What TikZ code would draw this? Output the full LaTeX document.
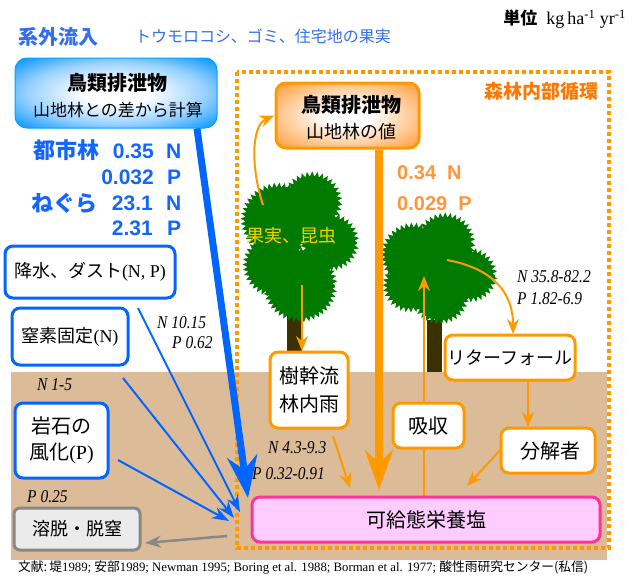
\documentclass[tikz,border=0pt]{standalone}
\usepackage{fontspec}
\setmainfont{Liberation Serif}
\newfontfamily\jp{Noto Sans CJK JP}
\newfontfamily\arl{Liberation Sans}
\usetikzlibrary{arrows.meta,decorations.pathmorphing}
\definecolor{fblue}{RGB}{0,102,255}
\definecolor{tblue}{RGB}{51,110,240}
\definecolor{numblue}{RGB}{20,100,255}
\definecolor{forange}{RGB}{255,153,0}
\definecolor{numorange}{RGB}{255,150,60}
\definecolor{titleorange}{RGB}{255,119,0}
\definecolor{soil}{RGB}{220,187,153}
\definecolor{leaf}{RGB}{0,122,0}
\definecolor{trunk}{RGB}{58,48,0}
\definecolor{fruit}{RGB}{255,204,0}
\definecolor{pinkline}{RGB}{255,51,153}
\definecolor{pinkfill}{RGB}{255,204,255}
\definecolor{grayline}{RGB}{136,136,136}
\definecolor{grayfill}{RGB}{235,235,235}
\pgfdeclareradialshading{bluefade}{\pgfpoint{0bp}{0bp}}{rgb(0bp)=(1,1,1); rgb(8bp)=(1,1,1); rgb(22bp)=(0.6,0.82,1); rgb(34bp)=(0.05,0.6,1); rgb(80bp)=(0,0.55,1)}
\pgfdeclareradialshading{orangefade}{\pgfpoint{0bp}{0bp}}{rgb(0bp)=(1,1,1); rgb(8bp)=(1,1,1); rgb(22bp)=(1,0.8,0.6); rgb(34bp)=(1,0.62,0.25); rgb(80bp)=(1,0.6,0.2)}
\newcommand\fsz[1]{\fontsize{#1}{#1}\selectfont}
\newcommand\cnd[1]{\scalebox{0.86}[1]{#1}}
\begin{document}
\begin{tikzpicture}[x=1pt,y=-1pt,
  jbox/.style={draw, line width=3pt, rounded corners=8pt, fill=white, inner sep=0pt, align=center, font=\jp\fsz{18}},
  lab/.style={inner sep=0pt, font=\itshape\fsz{18}},
  bnum/.style={inner sep=0pt, text=numblue, font=\arl\bfseries\fsz{21}},
  bword/.style={inner sep=0pt, text=numblue, font=\jp\bfseries\fsz{22}},
  crown/.style={fill=leaf, decorate, decoration={zigzag, segment length=5pt, amplitude=2.5pt}},
  thin/.style={fblue, line width=2pt, -{Stealth[length=17pt,width=12pt]}},
  oarr/.style={forange, line width=2pt, -{Stealth[length=15pt,width=12pt]}}]
\useasboundingbox (0,0) rectangle (636,579);

% soil layer and the dotted frame of the internal cycle
\fill[soil] (11,372) rectangle (607,560);
\draw[forange, line width=4pt, dash pattern=on 4pt off 3pt] (237,72) rectangle (609,548);

% trunks
\fill[trunk] (287,300) rectangle (302,352);
\fill[trunk] (427,320) rectangle (442,372);

% crowns
\fill[crown] (278,220) circle[radius=35pt];
\fill[crown] (312,202) circle[radius=28pt];
\fill[crown] (330,242) circle[radius=27pt];
\fill[crown] (300,285) circle[radius=35pt];
\fill[crown] (275,265) circle[radius=30pt];
\fill[crown] (413,255) circle[radius=30pt];
\fill[crown] (445,243) circle[radius=28pt];
\fill[crown] (470,275) circle[radius=25pt];
\fill[crown] (440,295) circle[radius=27pt];
\fill[crown] (410,285) circle[radius=25pt];

% headings
\node[inner sep=0pt, anchor=west, text=tblue, font=\jp\bfseries\fsz{20}] (ttl) at (18,37) {系外流入};
\node[inner sep=0pt, anchor=west, text=tblue, font=\jp\fsz{16}] (src) at (135,36) {トウモロコシ、ゴミ、住宅地の果実};
\node[inner sep=0pt, anchor=east, font=\fsz{18}] (unit) at (626,19) {{\jp\bfseries\fsz{17}単位}\ \ kg\,ha\textsuperscript{-1} yr\textsuperscript{-1}};
\node[inner sep=0pt, text=titleorange, font=\jp\bfseries\fsz{19}] (cyc) at (541,91) {森林内部循環};

% boxes of the external inputs
\node[rounded corners=12pt, shading=bluefade, draw=fblue!60!cyan, line width=1pt, inner sep=0pt, minimum width=202pt, minimum height=70pt] (bluebox) at (116,93) {};
\node[inner sep=0pt, font=\jp\bfseries\fsz{20}] (bb1) at (117,83) {鳥類排泄物};
\node[inner sep=0pt, font=\jp\fsz{17}] (bb2) at (118,110) {山地林との差から計算};

\node[rounded corners=10pt, shading=orangefade, draw=forange, line width=3pt, inner sep=0pt, minimum width=143pt, minimum height=65pt] (orangebox) at (347.5,115.5) {};
\node[inner sep=0pt, font=\jp\bfseries\fsz{20}] (ob1) at (351,105) {鳥類排泄物};
\node[inner sep=0pt, font=\jp\fsz{18}] (ob2) at (351,132) {山地林の値};

% amounts of bird droppings
\node[bword, anchor=east] (w1) at (100,150) {都市林};
\node[bnum, anchor=east] (n1) at (154,151) {0.35};
\node[bnum, anchor=west] (l1) at (166,151) {N};
\node[bnum, anchor=east] (n2) at (154,177) {0.032};
\node[bnum, anchor=west] (l2) at (167,177) {P};
\node[bword, anchor=east] (w3) at (98,203) {ねぐら};
\node[bnum, anchor=east] (n3) at (153,203) {23.1};
\node[bnum, anchor=west] (l3) at (166,203) {N};
\node[bnum, anchor=east] (n4) at (153,228) {2.31};
\node[bnum, anchor=west] (l4) at (167,228) {P};

\node[inner sep=0pt, anchor=west, text=numorange, font=\arl\bfseries\fsz{20}] (o1) at (397,173) {0.34\ \ N};
\node[inner sep=0pt, anchor=west, text=numorange, font=\arl\bfseries\fsz{20}] (o2) at (397,204) {0.029\ \ P};

\node[inner sep=0pt, text=fruit, font=\jp\fsz{18}] (fr) at (291,236) {果実、昆虫};

% flux labels
\node[lab, anchor=west] (f1) at (157,323) {\cnd{N 10.15}};
\node[lab, anchor=west] (f2) at (172,343) {\cnd{P 0.62}};
\node[lab, anchor=west] (f3) at (37,385) {\cnd{N 1-5}};
\node[lab, anchor=west] (f4) at (27,497) {\cnd{P 0.25}};
\node[lab, anchor=west] (f5) at (268,448) {\cnd{N 4.3-9.3}};
\node[lab, anchor=west] (f6) at (252,474) {\cnd{P 0.32-0.91}};
\node[lab, anchor=west] (f7) at (517,277) {\cnd{N 35.8-82.2}};
\node[lab, anchor=west] (f8) at (517,299) {\cnd{P 1.82-6.9}};

% connector end points
\coordinate (bx) at (197,0);
\coordinate (bend) at (248,498);
\coordinate (rs) at (138,308);
\coordinate (re) at (240,512);
\coordinate (ns) at (123,378);
\coordinate (ne) at (234,518);
\coordinate (ks) at (118,460);
\coordinate (ke) at (229,521);
\coordinate (gs) at (227,536);
\coordinate (ge) at (145,543);
\coordinate (fall) at (379,490);
\coordinate (up) at (424,276);
\coordinate (t1a) at (263,205);
\coordinate (t1b) at (302,285);
\coordinate (t2a) at (447,260);
\coordinate (lt) at (513,334);
\coordinate (ld) at (528,0);
\coordinate (ds) at (503,447);
\coordinate (de) at (467,486);
\coordinate (ss) at (333,436);
\coordinate (se) at (350,488);

% inputs to the soil pool
\draw[fblue, line width=7pt, -{Stealth[length=42pt,width=30pt]}] (bx |- bluebox.south) -- (bend);
\draw[thin] (rs) -- (re);
\draw[thin] (ns) -- (ne);
\draw[thin] (ks) -- (ke);
\draw[grayline, line width=2.5pt, -{Stealth[length=16pt,width=12pt]}] (gs) -- (ge);

% internal cycle
\draw[forange, line width=8pt, -{Stealth[length=40pt,width=28pt]}] (fall |- orangebox.south) -- (fall);
\draw[oarr] (t1a) .. controls (250,165) and (252,125) .. (orangebox.west);
\draw[oarr] (t1b) -- (t1b |- 0,351);
\draw[oarr] (up |- 0,496) -- (up);
\draw[oarr] (t2a) .. controls (490,268) and (513,290) .. (lt);
\draw[oarr] (ld |- 0,380) -- (ld |- 0,427);
\draw[oarr] (ds) -- (de);
\draw[oarr] (ss) -- (se);

% boxes
\node[jbox, draw=fblue, minimum width=170pt, minimum height=52pt] (rain) at (90,272) {降水、ダスト{\rmfamily(N, P)}};
\node[jbox, draw=fblue, minimum width=116pt, minimum height=57pt] (nfix) at (70,336.5) {窒素固定{\rmfamily(N)}};
\node[jbox, draw=fblue, minimum width=93pt, minimum height=75pt, font=\jp\fsz{20}] (rock) at (61.5,440.5) {岩石の\\[6pt]風化{\rmfamily(P)}};
\node[jbox, draw=grayline, fill=grayfill, rounded corners=6pt, minimum width=126pt, minimum height=42pt] (leach) at (77,529) {溶脱・脱窒};
\node[jbox, draw=forange, minimum width=78pt, minimum height=76pt, font=\jp\fsz{20}] (stem) at (309,390) {樹幹流\\[8pt]林内雨};
\node[jbox, draw=forange, minimum width=71pt, minimum height=45pt, font=\jp\fsz{20}] (absorb) at (428.5,425.5) {吸収};
\node[jbox, draw=forange, minimum width=130pt, minimum height=45pt] (litter) at (510,357.5) {リターフォール};
\node[jbox, draw=forange, minimum width=94pt, minimum height=45pt, font=\jp\fsz{20}] (decomp) at (548,450.5) {\ 分解者};
\node[jbox, draw=pinkline, fill=pinkfill, minimum width=348pt, minimum height=45pt, font=\jp\fsz{20}] (pink) at (426,519.5) {可給態栄養塩};

% references
\node[inner sep=0pt, anchor=west, font=\fsz{13}] (refs) at (18,567) {\resizebox{570pt}{!}{{\jp 文献:}\,{\jp 堤}1989; {\jp 安部}1989; Newman 1995; Boring et al. 1988; Borman et al. 1977; {\jp 酸性雨研究センター(私信)}}};
\end{tikzpicture}
\end{document}
